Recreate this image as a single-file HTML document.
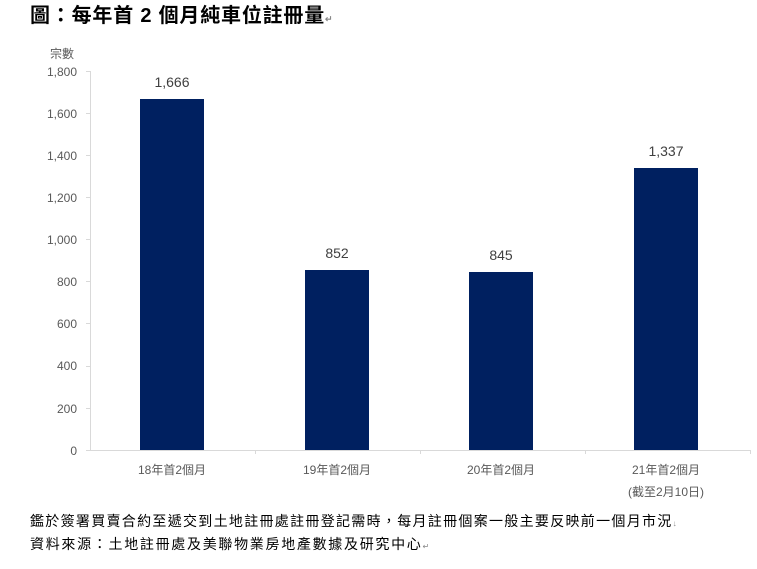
<!DOCTYPE html>
<html><head><meta charset="utf-8"><style>
body{margin:0;width:757px;height:564px;background:#fff;overflow:hidden;font-family:"Liberation Sans","Noto Sans CJK TC",sans-serif}
svg text{font-family:"Liberation Sans","Noto Sans CJK TC",sans-serif}
</style></head><body>
<svg width="757" height="564" xmlns="http://www.w3.org/2000/svg">
<text x="30" y="22" font-size="20" font-weight="bold" fill="#000" letter-spacing="0.8">圖：每年首 2 個月純車位註冊量<tspan font-size="9" fill="#888">↵</tspan></text>
<text x="50" y="58" font-size="12" fill="#595959">宗數</text>
<g font-size="12" fill="#595959" text-anchor="end">
<text x="77" y="76">1,800</text><text x="77" y="118">1,600</text><text x="77" y="160">1,400</text>
<text x="77" y="202">1,200</text><text x="77" y="244">1,000</text><text x="77" y="286">800</text>
<text x="77" y="328">600</text><text x="77" y="370">400</text><text x="77" y="413">200</text>
<text x="77" y="455">0</text></g>
<g stroke="#d9d9d9" stroke-width="1">
<line x1="90.5" y1="71" x2="90.5" y2="450"/>
<line x1="90" y1="450.5" x2="750" y2="450.5"/>
<line x1="86" y1="71.5" x2="90" y2="71.5"/><line x1="86" y1="113.5" x2="90" y2="113.5"/><line x1="86" y1="155.5" x2="90" y2="155.5"/><line x1="86" y1="197.5" x2="90" y2="197.5"/><line x1="86" y1="239.5" x2="90" y2="239.5"/><line x1="86" y1="281.5" x2="90" y2="281.5"/><line x1="86" y1="323.5" x2="90" y2="323.5"/><line x1="86" y1="366.5" x2="90" y2="366.5"/><line x1="86" y1="408.5" x2="90" y2="408.5"/><line x1="86" y1="450.5" x2="90" y2="450.5"/>
<line x1="255.5" y1="450" x2="255.5" y2="454"/><line x1="420.5" y1="450" x2="420.5" y2="454"/><line x1="585.5" y1="450" x2="585.5" y2="454"/><line x1="750.5" y1="450" x2="750.5" y2="454"/>
</g>
<g fill="#002060">
<rect x="140" y="99" width="64" height="351"/>
<rect x="305" y="270" width="64" height="180"/>
<rect x="469" y="272" width="64" height="178"/>
<rect x="634" y="168" width="64" height="282"/>
</g>
<g font-size="14" fill="#404040" text-anchor="middle">
<text x="172" y="87">1,666</text><text x="337" y="258">852</text><text x="501" y="260">845</text><text x="666" y="156">1,337</text>
</g>
<g font-size="12" fill="#595959" text-anchor="middle">
<text x="172" y="474">18年首2個月</text><text x="337" y="474">19年首2個月</text><text x="501" y="474">20年首2個月</text><text x="666" y="474">21年首2個月</text><text x="666" y="496">(截至2月10日)</text>
</g>
<text x="30" y="526" font-size="14" fill="#000" letter-spacing="1.3">鑑於簽署買賣合約至遞交到土地註冊處註冊登記需時，每月註冊個案一般主要反映前一個月市況<tspan font-size="8" fill="#888">↓</tspan></text>
<text x="30" y="549" font-size="14" fill="#000" letter-spacing="1.7">資料來源：土地註冊處及美聯物業房地產數據及研究中心<tspan font-size="8" fill="#888">↵</tspan></text>
</svg>
</body></html>
